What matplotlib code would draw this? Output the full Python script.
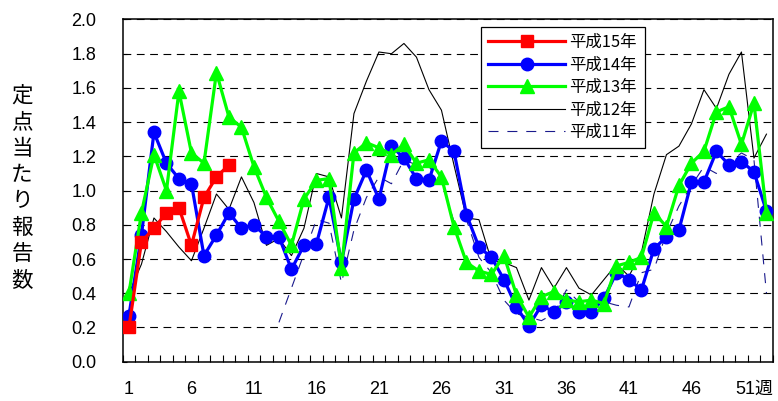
import numpy as np
import matplotlib
matplotlib.use("Agg")
import matplotlib.pyplot as plt
from matplotlib import font_manager as fm

# ---------------- data ----------------
weeks = list(range(1, 53))
tick_weeks = [1, 6, 11, 16, 21, 26, 31, 36, 41, 46, 51]
tick_labels = ["1", "6", "11", "16", "21", "26", "31", "36", "41", "46", "51週"]
y_ticks = [0.0, 0.2, 0.4, 0.6, 0.8, 1.0, 1.2, 1.4, 1.6, 1.8, 2.0]

series_names = ["平成15年", "平成14年", "平成13年", "平成12年", "平成11年"]

h15 = [0.20, 0.70, 0.78, 0.87, 0.90, 0.68, 0.96, 1.08, 1.15]

h14 = [0.27, 0.74, 1.34, 1.16, 1.07, 1.04, 0.62, 0.74, 0.87, 0.78,
       0.80, 0.73, 0.73, 0.54, 0.68, 0.69, 0.96, 0.58, 0.95, 1.12,
       0.95, 1.26, 1.19, 1.07, 1.06, 1.29, 1.23, 0.86, 0.67, 0.61,
       0.48, 0.32, 0.21, 0.33, 0.29, 0.35, 0.29, 0.29, 0.37, 0.52,
       0.48, 0.42, 0.66, 0.73, 0.77, 1.05, 1.05, 1.23, 1.15, 1.17,
       1.11, 0.88]

h13 = [0.40, 0.87, 1.21, 1.00, 1.58, 1.22, 1.16, 1.69, 1.43, 1.37,
       1.14, 0.96, 0.82, 0.68, 0.95, 1.06, 1.07, 0.55, 1.22, 1.28,
       1.25, 1.21, 1.27, 1.16, 1.18, 1.08, 0.79, 0.58, 0.53, 0.51,
       0.62, 0.39, 0.26, 0.38, 0.41, 0.36, 0.35, 0.36, 0.34, 0.56,
       0.58, 0.61, 0.87, 0.79, 1.03, 1.16, 1.23, 1.46, 1.49, 1.27,
       1.51, 0.87]

h12 = [0.40, 0.57, 0.84, 0.76, 0.67, 0.59, 0.78, 0.98, 0.89, 1.08,
       0.93, 0.68, 0.72, 0.62, 0.78, 1.10, 1.08, 0.84, 1.45, 1.64,
       1.81, 1.80, 1.86, 1.78, 1.59, 1.47, 1.15, 0.84, 0.83, 0.59,
       0.58, 0.55, 0.36, 0.55, 0.43, 0.55, 0.43, 0.39, 0.48, 0.57,
       0.50, 0.64, 0.98, 1.21, 1.26, 1.39, 1.59, 1.48, 1.68, 1.81,
       1.19, 1.33]

h11 = [None] * 12 + [
       0.23, 0.43, 0.63, 0.83, 0.81, 0.46, 0.77, 0.96,
       1.08, 1.04, 1.18, 1.15, 1.14, 1.05, 0.82, 0.83, 0.61, 0.52,
       0.36, 0.28, 0.26, 0.24, 0.28, 0.42, 0.35, 0.35, 0.35, 0.33,
       0.32, 0.52, 0.54, 0.75, 0.91, 1.03, 1.14, 1.10, 1.16, 1.22,
       1.18, 0.40]

# ---------------- fonts ----------------
names = {f.name for f in fm.fontManager.ttflist}
num_font = "Liberation Sans Narrow" if "Liberation Sans Narrow" in names else "Liberation Sans"
num_size = 15.8 if num_font == "Liberation Sans Narrow" else 13.0
cjk = "Noto Sans CJK JP"
plt.rcParams["font.family"] = [num_font, cjk, "DejaVu Sans"]

W, H = 778, 401
fig = plt.figure(figsize=(W / 100, H / 100), dpi=100)
L, R, T, B = 122.7, 772.7, 19.5, 361.7
ax = fig.add_axes([L / W, 1 - B / H, (R - L) / W, (B - T) / H])

def arr(v):
    return np.array([np.nan if x is None else x for x in v], dtype=float)

ax.plot(weeks, arr(h11), color="#1a1a8c", lw=0.8, ls=(0, (9, 8)),
        label=series_names[4], zorder=3)
ax.plot(weeks, arr(h12), color="black", lw=0.8, label=series_names[3], zorder=4)
ax.plot(weeks, arr(h14), color="#0000ff", lw=2.3, marker="o", ms=9,
        label=series_names[1], zorder=5)
ax.plot(weeks, arr(h13), color="#00ff00", lw=2.3, marker="^", ms=9.5,
        label=series_names[2], zorder=6)
ax.plot(weeks[:len(h15)], h15, color="#ff0000", lw=2.3, marker="s", ms=8,
        label=series_names[0], zorder=7)

ax.set_xlim(0.5, 52.5)
ax.set_ylim(0, 2.0)

ax.set_yticks(y_ticks)
ax.set_yticklabels([f"{v:.1f}" for v in y_ticks])
ax.yaxis.grid(True, color="black", lw=0.8, ls=(0, (7, 5)))
ax.set_axisbelow(True)

ax.set_xticks(tick_weeks)
ax.set_xticklabels(tick_labels)
ax.set_xticks(np.arange(0.5, 53, 1.0), minor=True)
ax.tick_params(axis="x", which="major", length=0, pad=14, labelsize=num_size)
ax.tick_params(axis="x", which="minor", direction="in", length=5, width=0.8)
ax.tick_params(axis="y", which="major", direction="in", length=3, width=0.8,
               pad=19, labelsize=num_size)
for lab in ax.get_xticklabels():
    lab.set_fontfamily([num_font, cjk])

for s in ax.spines.values():
    s.set_linewidth(1.1)
    s.set_color("black")

# legend in order 15,14,13,12,11
h, l = ax.get_legend_handles_labels()
order = [l.index(n) for n in series_names]
leg = ax.legend([h[i] for i in order], [l[i] for i in order],
                loc="upper left", bbox_to_anchor=(481 / W, 1 - 26.7 / H),
                bbox_transform=fig.transFigure, borderaxespad=0,
                prop={"family": cjk, "size": 11.8}, frameon=True, fancybox=False,
                edgecolor="black", framealpha=1, handlelength=4.7,
                handletextpad=0.25, labelspacing=0.33, borderpad=0.45)
leg.get_frame().set_linewidth(0.9)

# vertical y-axis label (stacked characters)
ylabel = "定点当たり報告数"
pitch = 26.4
for i, ch in enumerate(ylabel):
    fig.text(22 / W, 1 - (95.8 + i * pitch) / H, ch, ha="center", va="center",
             fontsize=15.5, family=cjk)

fig.savefig("out.png", dpi=100)
